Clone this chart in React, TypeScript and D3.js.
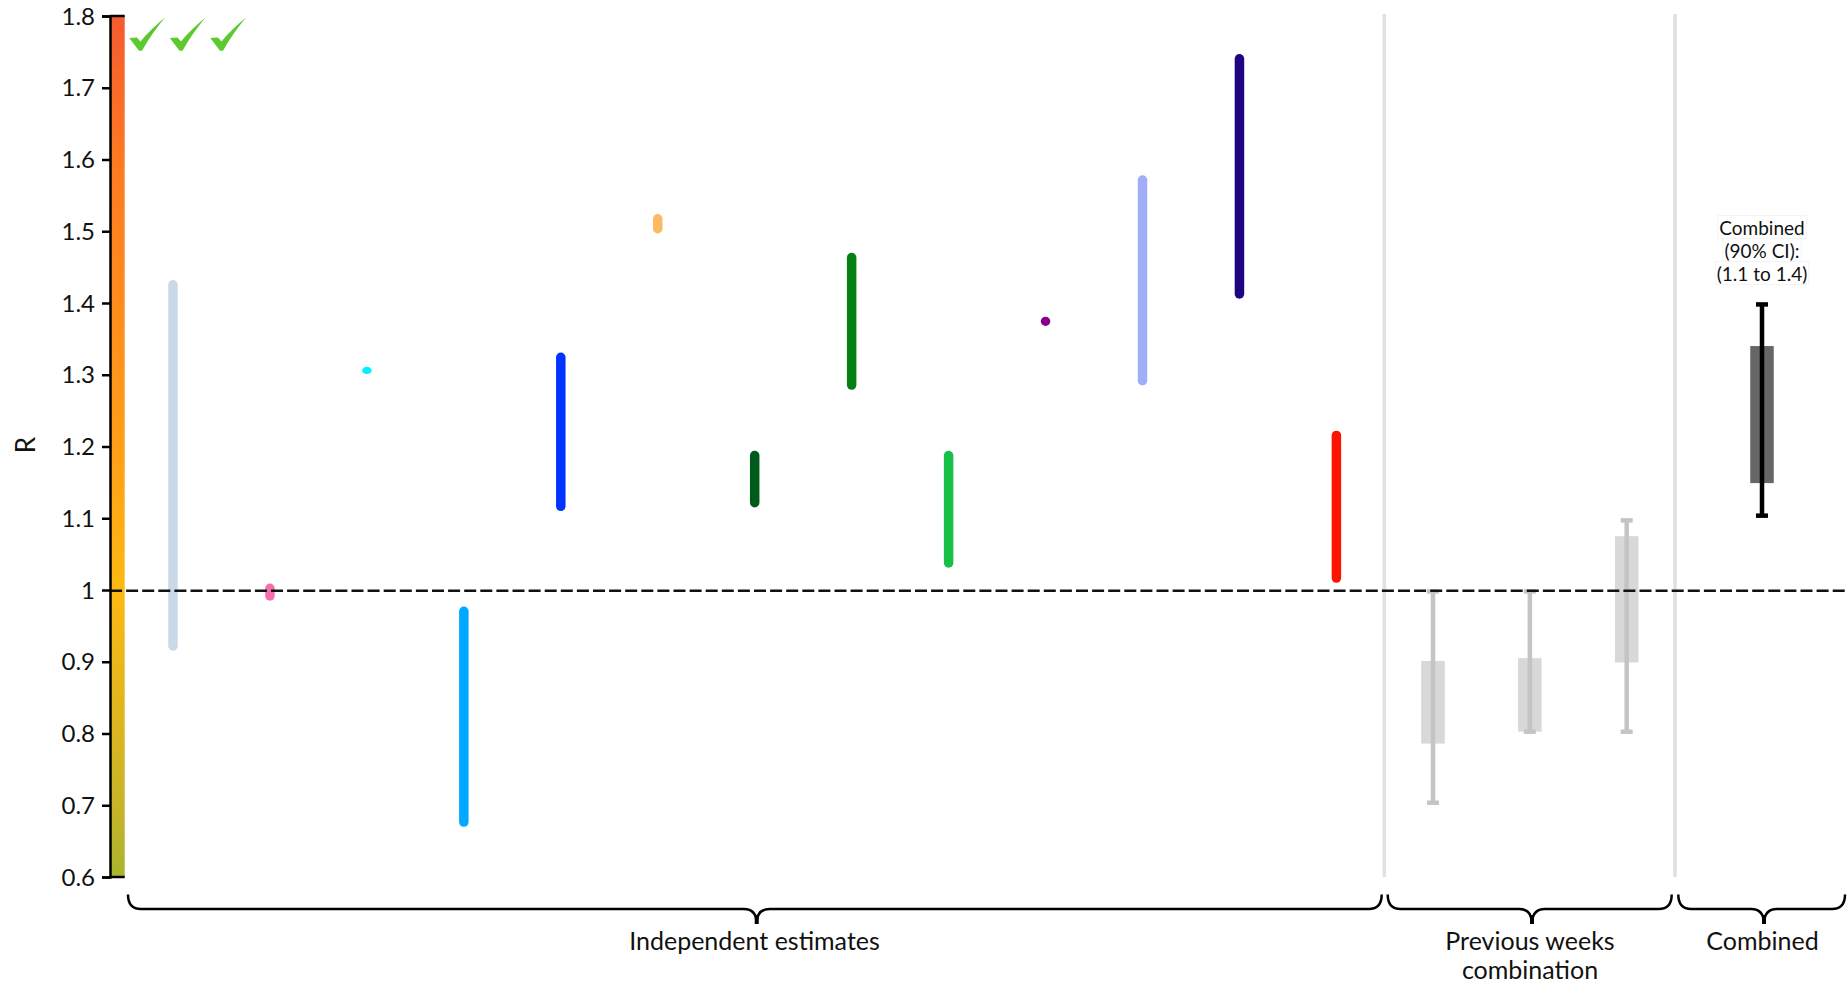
import React, { useEffect, useRef } from "react";
import * as d3 from "d3";

const independentNames = ["a", "b", "c", "d", "e", "f", "g", "h", "i", "j", "k", "l", "m"];
const independentLow = [0.9155, 0.985, 1.301, 0.67, 1.11, 1.497, 1.115, 1.279, 1.031, 1.368, 1.285, 1.406, 1.01];
const independentHigh = [1.432, 1.009, 1.311, 0.977, 1.331, 1.524, 1.194, 1.47, 1.194, 1.381, 1.578, 1.747, 1.222];
const independentColors = [
  "#c9d9e7", "#f36fb0", "#00f0ff", "#00a8ff", "#0033ff", "#fdb964", "#005a1a",
  "#048010", "#17c147", "#86008c", "#a0aef5", "#1f0580", "#fb1500",
];

const previousNames = ["w1", "w2", "w3"];
const previousBoxLow = [0.786, 0.8025, 0.899];
const previousBoxHigh = [0.901, 0.905, 1.075];
const previousLow = [0.7035, 0.8025, 0.8025];
const previousHigh = [0.998, 0.998, 1.097];

const combinedNames = ["combined"];
const combinedBoxLow = [1.149];
const combinedBoxHigh = [1.34];
const combinedLow = [1.1036];
const combinedHigh = [1.398];
const combinedNote = ["Combined", "(90% CI):", "(1.1 to 1.4)"];

const yTicks = [0.6, 0.7, 0.8, 0.9, 1, 1.1, 1.2, 1.3, 1.4, 1.5, 1.6, 1.7, 1.8];
const gradientStops = [
  { value: 1.8, color: "#f45a30" },
  { value: 1.6, color: "#ff7a22" },
  { value: 1.2, color: "#ff9f18" },
  { value: 1.0, color: "#fdb913" },
  { value: 0.7, color: "#c8b428" },
  { value: 0.6, color: "#a9b42e" },
];
const checks = ["c1", "c2", "c3"];

const FONT = "Lato, sans-serif";

const App: React.FC = () => {
  const svgRef = useRef<SVGSVGElement | null>(null);

  useEffect(() => {
    const svg = d3.select(svgRef.current);
    svg.selectAll("*").remove();

    const y = d3.scaleLinear().domain([0.6, 1.8]).range([877, 16]);
    const xInd = d3.scalePoint().domain(independentNames).range([173, 1336.4]);
    const xPrev = d3.scalePoint().domain(previousNames).range([1433, 1626.7]);
    const xComb = d3.scalePoint().domain(combinedNames).range([1762, 1762]);
    const xCheck = d3.scalePoint().domain(checks).range([0, 81]);

    const axisX = 110;
    const barW = 9.5;
    const boxW = 23.5;
    const capW = 12;

    // colour strip behind the axis
    const defs = svg.append("defs");
    const grad = defs
      .append("linearGradient")
      .attr("id", "rGrad")
      .attr("gradientUnits", "userSpaceOnUse")
      .attr("x1", 0)
      .attr("x2", 0)
      .attr("y1", y(1.8))
      .attr("y2", y(0.6));
    grad
      .selectAll("stop")
      .data(gradientStops)
      .enter()
      .append("stop")
      .attr("offset", (d) => (1.8 - d.value) / 1.2)
      .attr("stop-color", (d) => d.color);

    svg
      .append("rect")
      .attr("x", axisX)
      .attr("y", y(1.8))
      .attr("width", 14.7)
      .attr("height", y(0.6) - y(1.8))
      .attr("fill", "url(#rGrad)");

    // section dividers
    [1384.3, 1675].forEach((x) => {
      svg
        .append("line")
        .attr("x1", x)
        .attr("x2", x)
        .attr("y1", 14)
        .attr("y2", 877)
        .attr("stroke", "#e1e1e1")
        .attr("stroke-width", 3.6);
    });

    // independent estimates
    svg
      .selectAll("rect.est")
      .data(independentNames)
      .enter()
      .append("rect")
      .attr("class", "est")
      .attr("x", (d) => xInd(d)! - barW / 2)
      .attr("y", (_, i) => y(independentHigh[i]))
      .attr("width", barW)
      .attr("height", (_, i) => y(independentLow[i]) - y(independentHigh[i]))
      .attr("rx", barW / 2)
      .attr("fill", (_, i) => independentColors[i]);

    const drawWhisker = (
      g: d3.Selection<any, any, any, any>,
      x: number,
      boxLow: number,
      boxHigh: number,
      low: number,
      high: number,
      boxColor: string,
      lineColor: string
    ) => {
      g.append("rect")
        .attr("x", x - boxW / 2)
        .attr("y", y(boxHigh))
        .attr("width", boxW)
        .attr("height", y(boxLow) - y(boxHigh))
        .attr("fill", boxColor);
      g.append("line")
        .attr("x1", x)
        .attr("x2", x)
        .attr("y1", y(high))
        .attr("y2", y(low))
        .attr("stroke", lineColor)
        .attr("stroke-width", 4.5);
      [low, high].forEach((v) => {
        g.append("line")
          .attr("x1", x - capW / 2)
          .attr("x2", x + capW / 2)
          .attr("y1", y(v))
          .attr("y2", y(v))
          .attr("stroke", lineColor)
          .attr("stroke-width", 4.5);
      });
    };

    const whiskers = svg.append("g");
    previousNames.forEach((d, i) => {
      drawWhisker(
        whiskers,
        xPrev(d)!,
        previousBoxLow[i],
        previousBoxHigh[i],
        previousLow[i],
        previousHigh[i],
        "#d8d8d8",
        "#c4c4c4"
      );
    });

    // reference line at R = 1
    svg
      .append("line")
      .attr("x1", axisX)
      .attr("x2", 1848)
      .attr("y1", y(1) + 0.7)
      .attr("y2", y(1) + 0.7)
      .attr("stroke", "#111")
      .attr("stroke-width", 2.5)
      .attr("stroke-dasharray", "12,4.1");

    combinedNames.forEach((d, i) => {
      drawWhisker(
        svg.append("g"),
        xComb(d)!,
        combinedBoxLow[i],
        combinedBoxHigh[i],
        combinedLow[i],
        combinedHigh[i],
        "#666666",
        "#000000"
      );
    });

    // note above the combined estimate
    const note = svg.append("g");
    combinedNote.forEach((line, i) => {
      const row = note.append("g");
      const t = row
        .append("text")
        .attr("x", xComb("combined")!)
        .attr("y", 234.5 + i * 23)
        .attr("text-anchor", "middle")
        .attr("font-family", FONT)
        .attr("font-size", 19)
        .attr("fill", "#111")
        .text(line);
      const box = (t.node() as SVGTextElement).getBBox();
      row
        .insert("rect", "text")
        .attr("x", box.x - 1.5)
        .attr("y", box.y)
        .attr("width", box.width + 3)
        .attr("height", box.height)
        .attr("fill", "#fff")
        .attr("stroke", "#f4f4f4");
    });

    // y axis
    const yAxis = d3
      .axisLeft(y)
      .tickValues(yTicks)
      .tickSize(8)
      .tickPadding(7)
      .tickFormat((d) => String(d));
    const axisG = svg.append("g").attr("transform", `translate(${axisX},0)`).call(yAxis as any);
    axisG.select(".domain").attr("stroke", "#000").attr("stroke-width", 2.5);
    axisG.selectAll(".tick line").attr("stroke", "#000").attr("stroke-width", 2.5);
    axisG
      .selectAll(".tick text")
      .attr("fill", "#111")
      .attr("dy", "0.34em")
      .style("font-family", FONT)
      .style("font-size", "24px");
    [1.8, 0.6].forEach((v) => {
      svg
        .append("line")
        .attr("x1", axisX)
        .attr("x2", axisX + 14.7)
        .attr("y1", y(v))
        .attr("y2", y(v))
        .attr("stroke", "#000")
        .attr("stroke-width", 2.5);
    });

    svg
      .append("text")
      .attr("transform", "translate(35,445) rotate(-90)")
      .attr("text-anchor", "middle")
      .attr("font-family", FONT)
      .attr("font-size", 26)
      .attr("fill", "#111")
      .text("R");

    // ticks at the top left
    svg
      .selectAll("path.check")
      .data(checks)
      .enter()
      .append("path")
      .attr("class", "check")
      .attr("transform", (d) => `translate(${xCheck(d)},0)`)
      .attr("d", "M129.3,38 L137,37.5 L140.5,41.5 C147,33 156,25 165,17.5 C157,27 149,38 142,50.7 L139,50.7 Z")
      .attr("fill", "#5cc92f");

    // braces under the groups
    const braces = [
      { from: 128, to: 1381.7, tip: 756.7 },
      { from: 1387.7, to: 1671.7, tip: 1532 },
      { from: 1678.3, to: 1845, tip: 1764 },
    ];
    const top = 894.5;
    const mid = 909;
    const end = 924;
    const r = 13;
    braces.forEach((b) => {
      const p = d3.path();
      p.moveTo(b.from, top);
      p.quadraticCurveTo(b.from, mid, b.from + r, mid);
      p.lineTo(b.tip - r, mid);
      p.quadraticCurveTo(b.tip, mid, b.tip, end);
      p.quadraticCurveTo(b.tip, mid, b.tip + r, mid);
      p.lineTo(b.to - r, mid);
      p.quadraticCurveTo(b.to, mid, b.to, top);
      svg
        .append("path")
        .attr("d", p.toString())
        .attr("fill", "none")
        .attr("stroke", "#000")
        .attr("stroke-width", 2.5);
      svg
        .append("line")
        .attr("x1", b.tip)
        .attr("x2", b.tip)
        .attr("y1", mid + 6)
        .attr("y2", end)
        .attr("stroke", "#000")
        .attr("stroke-width", 4);
    });

    const groupLabels = [
      { x: 754.5, y: 950, text: "Independent estimates" },
      { x: 1530, y: 950, text: "Previous weeks" },
      { x: 1530, y: 979, text: "combination" },
      { x: 1762.5, y: 950, text: "Combined" },
    ];
    svg
      .selectAll("text.group")
      .data(groupLabels)
      .enter()
      .append("text")
      .attr("class", "group")
      .attr("x", (d) => d.x)
      .attr("y", (d) => d.y)
      .attr("text-anchor", "middle")
      .attr("font-family", FONT)
      .attr("font-size", 25)
      .attr("fill", "#111")
      .text((d) => d.text);
  }, []);

  return (
    <svg
      ref={svgRef}
      width={1848}
      height={984}
      style={{ position: "absolute", left: 0, top: 0, display: "block", background: "#fff" }}
    />
  );
};

export default App;
